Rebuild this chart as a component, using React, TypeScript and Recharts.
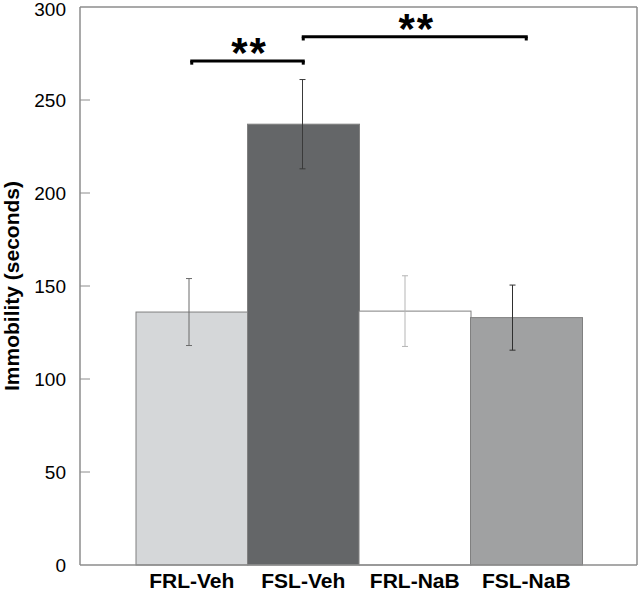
import React from 'react';
import { BarChart, Bar, XAxis, YAxis, Cell, ReferenceLine } from 'recharts';

const CATEGORIES = ['FRL-Veh', 'FSL-Veh', 'FRL-NaB', 'FSL-NaB'];
const MEANS = [136, 237, 136.5, 133];
const SEM = [18, 24, 19, 17.5];
const Y_TICKS = [0, 50, 100, 150, 200, 250, 300];
const SIG_FROM = ['FRL-Veh', 'FSL-Veh'];
const SIG_TO = ['FSL-Veh', 'FSL-NaB'];
const SIG_Y = [271, 284];
const SIG_LABELS = ['**', '**'];

const BAR_FILLS = ['#d5d7d9', '#646668', '#ffffff', '#a0a1a2'];
const ERR_COLORS = ['#6b6b6b', '#3a3a3a', '#b5b5b5', '#2f2f2f'];
const ERR_OFFSETS = [-3, -1, -10, -14];
const FONT = 'Liberation Sans, Arial, Helvetica, sans-serif';
const FRAME = '#8c8c8c';
const TICK_LEN = 10;
const LEFT_MARGIN = 14;

const data = CATEGORIES.map((name, i) => ({ name, mean: MEANS[i], sem: SEM[i] }));

const BarShape = (props: any) => {
  const { x, y, width, height, index, fill } = props;
  const mean = MEANS[index];
  const err = SEM[index];
  const k = height / mean;
  const cx = x + width / 2 + ERR_OFFSETS[index];
  const yTop = y - err * k;
  const yBot = y + err * k;
  const c = ERR_COLORS[index];
  return (
    <g>
      <rect x={x} y={y} width={width} height={height} fill={fill} stroke="#808080" strokeWidth={1} />
      <line x1={cx} x2={cx} y1={yTop} y2={yBot} stroke={c} strokeWidth={1} />
      <line x1={cx - 3} x2={cx + 3} y1={yTop} y2={yTop} stroke={c} strokeWidth={1} />
      <line x1={cx - 3} x2={cx + 3} y1={yBot} y2={yBot} stroke={c} strokeWidth={1} />
    </g>
  );
};

const LeftTick = (props: any) => {
  const { x, y, payload } = props;
  const ax = x + LEFT_MARGIN;
  return (
    <g>
      {payload.value > 0 && payload.value < 300 && (
        <line x1={ax} x2={ax + TICK_LEN} y1={y} y2={y} stroke={FRAME} strokeWidth={1} />
      )}
      <text x={x} y={y} dy={6.5} textAnchor="end" fontFamily={FONT} fontSize={19} fill="#000">
        {payload.value}
      </text>
    </g>
  );
};

const RightTick = (props: any) => {
  const { x, y, payload } = props;
  if (payload.value <= 0 || payload.value >= 300) return <g />;
  return <line x1={x - TICK_LEN} x2={x} y1={y} y2={y} stroke={FRAME} strokeWidth={1} />;
};

const YLabel = (props: any) => {
  const vb = props.viewBox || {};
  const cy = (vb.y ?? 7) + (vb.height ?? 558) / 2;
  const x = 19;
  return (
    <text x={x} y={cy} transform={`rotate(-90 ${x} ${cy})`} textAnchor="middle"
      fontFamily={FONT} fontSize={21} fontWeight="bold" fill="#000">
      Immobility (seconds)
    </text>
  );
};

const makeStar = (text: string) => (props: any) => {
  const vb = props.viewBox || {};
  const x = (vb.x ?? 0) + (vb.width ?? 0) / 2 + 2;
  const y = (vb.y ?? 0) + 6.5;
  return (
    <text x={x} y={y} textAnchor="middle" fontFamily={FONT} fontSize={42} fontWeight="bold"
      letterSpacing={2} fill="#000">
      {text}
    </text>
  );
};

export default function App() {
  return (
    <div style={{ position: 'absolute', left: 0, top: 0, background: '#fff' }}>
      <BarChart width={640} height={592} data={data}
        margin={{ top: 7, right: 0, bottom: 0, left: 0 }}
        barCategoryGap={0} barGap={0}>
        <XAxis dataKey="name" height={27} padding={{ left: 56, right: 55 }}
          axisLine={{ stroke: FRAME, strokeWidth: 1.5 }} tickLine={false} tickSize={6} tickMargin={2}
          tick={{ fontFamily: FONT, fontSize: 21, fontWeight: 'bold', fill: '#000' }} interval={0} />
        <YAxis yAxisId="left" width={80} domain={[0, 300]} ticks={Y_TICKS} type="number"
          axisLine={{ stroke: FRAME, strokeWidth: 1.5 }} tickLine={false}
          tickSize={0} tickMargin={LEFT_MARGIN}
          tick={LeftTick}
          label={{ content: YLabel }} />
        <YAxis yAxisId="right" orientation="right" width={3} domain={[0, 300]} ticks={Y_TICKS} type="number"
          axisLine={{ stroke: FRAME, strokeWidth: 1.5 }} tickLine={false}
          tickSize={0} tickMargin={0} tick={RightTick} />
        <ReferenceLine yAxisId="left" y={300} stroke={FRAME} strokeWidth={1.5} ifOverflow="visible" />
        <Bar yAxisId="left" dataKey="mean" isAnimationActive={false} shape={BarShape}>
          {data.map((d, i) => (
            <Cell key={d.name} fill={BAR_FILLS[i]} />
          ))}
        </Bar>
        {SIG_Y.map((yv, i) => (
          <ReferenceLine key={`sig${i}`} yAxisId="left" ifOverflow="visible"
            segment={[{ x: SIG_FROM[i], y: yv }, { x: SIG_TO[i], y: yv }]}
            stroke="#000" strokeWidth={3} strokeLinecap="square"
            label={{ content: makeStar(SIG_LABELS[i]) }} />
        ))}
        {SIG_Y.map((yv, i) => (
          <ReferenceLine key={`sigl${i}`} yAxisId="left" ifOverflow="visible"
            segment={[{ x: SIG_FROM[i], y: yv }, { x: SIG_FROM[i], y: yv - 2 }]}
            stroke="#000" strokeWidth={3} />
        ))}
        {SIG_Y.map((yv, i) => (
          <ReferenceLine key={`sigr${i}`} yAxisId="left" ifOverflow="visible"
            segment={[{ x: SIG_TO[i], y: yv }, { x: SIG_TO[i], y: yv - 2 }]}
            stroke="#000" strokeWidth={3} />
        ))}
      </BarChart>
    </div>
  );
}
